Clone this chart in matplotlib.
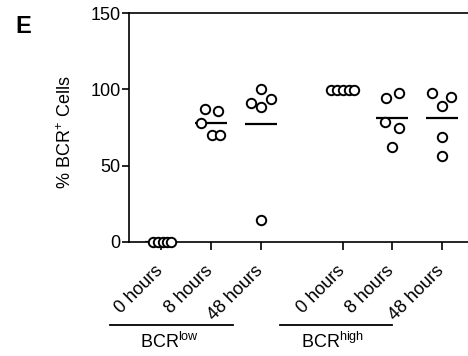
import matplotlib
matplotlib.use('Agg')
import matplotlib.pyplot as plt
import matplotlib.transforms as mtransforms
import numpy as np

plt.rcParams['font.family'] = ['Liberation Sans', 'DejaVu Sans']
plt.rcParams['mathtext.default'] = 'regular'

# data
tick_labels = ['0 hours', '8 hours', '48 hours', '0 hours', '8 hours', '48 hours']
positions = [0, 1, 2, 3.64, 4.62, 5.62]
low_0h = [0, 0, 0, 0, 0]
low_8h = [87.1, 85.8, 77.9, 70.1, 70.1]
low_48h = [100, 91.3, 93.5, 88.2, 14.4]
high_0h = [99.8, 99.8, 99.8, 99.8, 99.8]
high_8h = [94.1, 97.8, 78.8, 74.9, 62.0]
high_48h = [97.4, 95.2, 89.1, 68.6, 56.6]
# horizontal scatter offsets (beeswarm style), in category units
jitter_low_0h = [-0.17, -0.06, 0.04, 0.12, 0.2]
jitter_low_8h = [-0.12, 0.14, -0.2, 0.02, 0.18]
jitter_low_48h = [0, -0.2, 0.2, 0, 0]
jitter_high_0h = [-0.24, -0.12, 0, 0.11, 0.22]
jitter_high_8h = [-0.13, 0.14, -0.14, 0.14, 0]
jitter_high_48h = [-0.2, 0.18, 0, 0, 0]
groups = ['BCR$^{low}$', 'BCR$^{high}$']

series = [low_0h, low_8h, low_48h, high_0h, high_8h, high_48h]
jitters = [jitter_low_0h, jitter_low_8h, jitter_low_48h,
           jitter_high_0h, jitter_high_8h, jitter_high_48h]

fig = plt.figure(figsize=(4.68, 3.56), dpi=100)
ax = fig.add_axes([129 / 468, 114 / 356, 1 - 129 / 468, 229 / 356])

for pos, vals, jit in zip(positions, series, jitters):
    x = pos + np.array(jit)
    ax.scatter(x, vals, s=46, facecolor='white', edgecolor='black',
               linewidth=1.4, zorder=3, clip_on=False)
    m = np.mean(vals)
    ax.hlines(m, pos - 0.32, pos + 0.32, color='black', linewidth=1.6, zorder=2)

ax.set_xlim(-0.64, 6.14)
ax.set_ylim(0, 150)
ax.set_yticks([0, 50, 100, 150])
ax.set_xticks(positions)
ax.set_xticklabels([])
# rotated category labels, placed by hand a bit lower/left than the default
shift = mtransforms.ScaledTranslation(-7 / 100, -20 / 100, fig.dpi_scale_trans)
for pos, lab in zip(positions, tick_labels):
    ax.text(pos, 0, lab, transform=ax.get_xaxis_transform() + shift,
            rotation=45, ha='right', va='top', rotation_mode='anchor',
            fontsize=13)
ax.tick_params(axis='y', labelsize=13, length=5, width=1.2, pad=1)
ax.tick_params(axis='x', length=6, width=1.2, pad=2)
for s in ['left', 'bottom', 'top']:
    ax.spines[s].set_linewidth(1.2)
ax.spines['right'].set_visible(False)

ax.set_ylabel('% BCR$^{+}$ Cells', fontsize=13)
ax.yaxis.set_label_coords(-0.159, 0.478)

# group brackets under the tick labels
trans = mtransforms.blended_transform_factory(ax.transData, fig.transFigure)
bracket_spans = [(-1.02, 1.44), (2.38, 4.62)]
label_x = [0.18, 3.44]
for (x0, x1), lx, g in zip(bracket_spans, label_x, groups):
    ax.plot([x0, x1], [31 / 356, 31 / 356], color='black', linewidth=1.3,
            transform=trans, clip_on=False)
    ax.text(lx, 8 / 356, g, transform=trans, ha='center', va='baseline',
            fontsize=13)

fig.text(15 / 468, 1 - 15 / 356, 'E', fontsize=17, fontweight='bold',
         ha='left', va='top')

fig.savefig('out.png', dpi=100)
